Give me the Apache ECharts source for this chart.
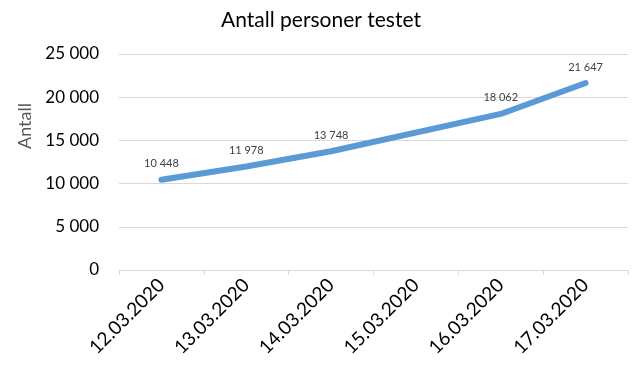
<!DOCTYPE html>
<html>
<head>
<meta charset="utf-8">
<script src="https://cdn.jsdelivr.net/npm/echarts@6/dist/echarts.min.js"></script>
<style>
  html, body { margin: 0; padding: 0; background: #fff; }
  #main { width: 642px; height: 378px; }
</style>
</head>
<body>
<div id="main"></div>
<script>
var dates = ['12.03.2020', '13.03.2020', '14.03.2020', '15.03.2020', '16.03.2020', '17.03.2020'];
// 15.03 has no label in the source, line is drawn straight across it
var tested = [10448, 11978, 13748, null, 18062, 21647];
var yTicks = [0, 5000, 10000, 15000, 20000, 25000];

function fmt(v) {
    return String(v).replace(/\B(?=(\d{3})+(?!\d))/g, ' ');
}

var myChart = echarts.init(document.getElementById('main'));
var font = 'Lato, "Open Sans", sans-serif';

var option = {
    animation: false,
    title: {
        text: 'Antall personer testet',
        left: 'center',
        top: 5,
        textStyle: { fontFamily: font, fontSize: 21, fontWeight: 'normal', color: '#000' }
    },
    grid: { left: 119, right: 14, top: 54, bottom: 108 },
    xAxis: {
        type: 'category',
        data: dates,
        boundaryGap: true,
        axisLine: { lineStyle: { color: '#d9d9d9' } },
        axisTick: { show: true, length: 5, lineStyle: { color: '#d9d9d9' } },
        axisLabel: {
            rotate: 45,
            margin: 12,
            fontFamily: font,
            fontSize: 19,
            color: '#000'
        }
    },
    yAxis: {
        type: 'value',
        min: yTicks[0],
        max: yTicks[yTicks.length - 1],
        interval: yTicks[1] - yTicks[0],
        name: 'Antall',
        nameLocation: 'middle',
        nameGap: 80,
        nameTextStyle: { fontFamily: font, fontSize: 18, color: '#595959', padding: [0, 0, 0, 72] },
        axisLine: { show: false },
        axisTick: { show: false },
        splitLine: { lineStyle: { color: '#d9d9d9' } },
        axisLabel: {
            fontFamily: font,
            fontSize: 17,
            color: '#000',
            margin: 20,
            formatter: fmt
        }
    },
    series: [{
        type: 'line',
        data: tested,
        connectNulls: true,
        showSymbol: true,
        symbol: 'circle',
        symbolSize: 1,
        lineStyle: { color: '#5b9bd5', width: 6, cap: 'round', join: 'round' },
        itemStyle: { color: '#5b9bd5' },
        label: {
            show: true,
            position: 'top',
            distance: 10,
            fontFamily: font,
            fontSize: 11,
            color: '#404040',
            formatter: function (p) { return fmt(p.value); }
        }
    }]
};

myChart.setOption(option);
</script>
</body>
</html>
